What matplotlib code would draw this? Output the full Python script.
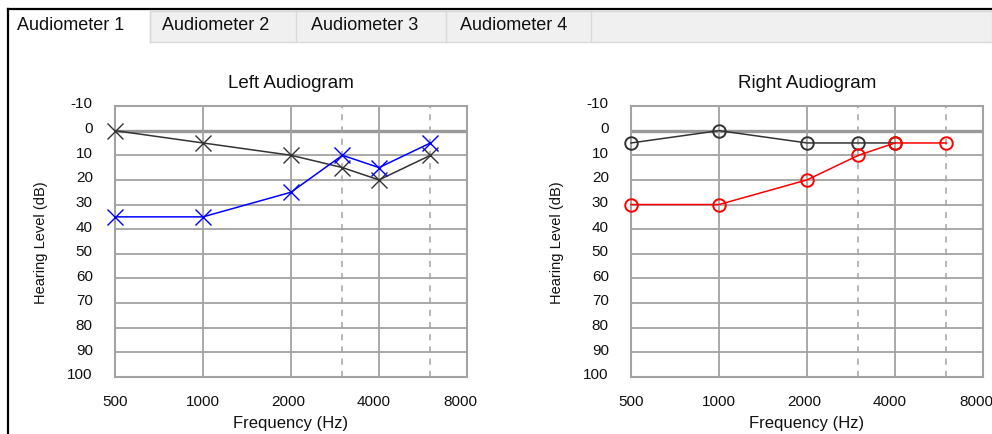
import matplotlib.pyplot as plt
from matplotlib.patches import Rectangle
from matplotlib.lines import Line2D
from matplotlib.ticker import NullLocator
from matplotlib.transforms import ScaledTranslation

plt.rcParams['font.family'] = ['Liberation Sans', 'DejaVu Sans']

# thresholds (dB HL)
freqs = [500, 1000, 2000, 3000, 4000, 6000]
left_black = [0, 5, 10, 15, 20, 10]
left_blue = [35, 35, 25, 10, 15, 5]
right_freqs_black = [500, 1000, 2000, 3000, 4000]
right_black = [5, 0, 5, 5, 5]
right_red = [30, 30, 20, 10, 5, 5]

x_ticks = [500, 1000, 2000, 4000, 8000]
solid_grid = [1000, 2000, 4000]
dashed_grid = [3000, 6000]
y_ticks = list(range(-10, 101, 10))
tab_names = ['Audiometer 1', 'Audiometer 2', 'Audiometer 3', 'Audiometer 4']

W, H = 992, 435
fig = plt.figure(figsize=(W / 100, H / 100), dpi=100)
fig.patch.set_facecolor('white')


def fx(x):
    return x / W


def fy(y):
    return 1 - y / H


def line_px(x0, y0, x1, y1, **kw):
    fig.add_artist(Line2D([fx(x0), fx(x1)], [fy(y0), fy(y1)], transform=fig.transFigure, **kw))


# tab strip
fig.add_artist(Rectangle((fx(150), fy(43)), fx(W - 150), (43 - 12) / H, transform=fig.transFigure,
                         facecolor='#f0f0f0', edgecolor='#d9d9d9', lw=1))
for xs in [150, 296, 446, 591]:
    line_px(xs, 12, xs, 43, color='#d9d9d9', lw=1)
line_px(8, 10, W, 10, color='black', lw=1.6)
line_px(8, 10, 8, H, color='black', lw=1.6)
for name, tx in zip(tab_names, [17, 162, 311, 460]):
    fig.text(fx(tx), fy(26), name, fontsize=13, va='center', ha='left', color='#111111')

grid_c = '#a3a3a3'
# the original control places the frequency labels a little left of their gridlines
xlab_shift_px = [0, 0, -3, -5, -7]


def audiogram(x_left, title, series):
    ax = fig.add_axes([fx(x_left), fy(378), 352 / W, 271 / H])
    ax.set_xscale('log')
    ax.set_xlim(500, 8000)
    ax.set_ylim(100, -10)
    ax.set_xticks(x_ticks)
    ax.set_xticklabels([str(v) for v in x_ticks])
    ax.xaxis.set_minor_locator(NullLocator())
    ax.set_yticks(y_ticks)
    ax.set_yticklabels([str(v) for v in y_ticks])
    ax.tick_params(length=0, labelsize=11, labelcolor='#111111')
    ax.tick_params(axis='x', pad=12)
    ax.tick_params(axis='y', pad=16)
    for lab in ax.get_yticklabels():
        lab.set_transform(lab.get_transform() + ScaledTranslation(0, 3 / 72, fig.dpi_scale_trans))
    for lab, dx in zip(ax.get_xticklabels(), xlab_shift_px):
        lab.set_transform(lab.get_transform() + ScaledTranslation(dx / 100, 0, fig.dpi_scale_trans))
    for s in ax.spines.values():
        s.set_color(grid_c)
        s.set_linewidth(1.5)
    for v in range(10, 100, 10):
        ax.axhline(v, color=grid_c, lw=1.3, zorder=1)
    ax.axhline(0, color='#999999', lw=2.4, zorder=1)
    for v in solid_grid:
        ax.axvline(v, color=grid_c, lw=1.3, zorder=1)
    for v in dashed_grid:
        ax.axvline(v, color=grid_c, lw=1.1, ls=(0, (4, 4)), zorder=1)
    for xs, ys, c, m in series:
        if m == 'x':
            ax.plot(xs, ys, color=c, lw=1.1, marker='x', ms=12, mew=1.0, clip_on=False, zorder=3)
        else:
            ax.plot(xs, ys, color=c, lw=1.1, marker='o', ms=9, mfc='none', mew=1.4,
                    clip_on=False, zorder=3)
    ax.set_title(title, fontsize=13.5, pad=14, color='#111111')
    ax.set_xlabel('Frequency (Hz)', fontsize=12, labelpad=5, color='#111111')
    ax.set_ylabel('Hearing Level (dB)', fontsize=10.5, labelpad=14, color='#111111')
    return ax


audiogram(115, 'Left Audiogram', [
    (freqs, left_black, '#333333', 'x'),
    (freqs, left_blue, '#0000ff', 'x'),
])
audiogram(631, 'Right Audiogram', [
    (right_freqs_black, right_black, '#333333', 'o'),
    (freqs, right_red, '#ff0000', 'o'),
])

fig.savefig('out.png', dpi=100)
